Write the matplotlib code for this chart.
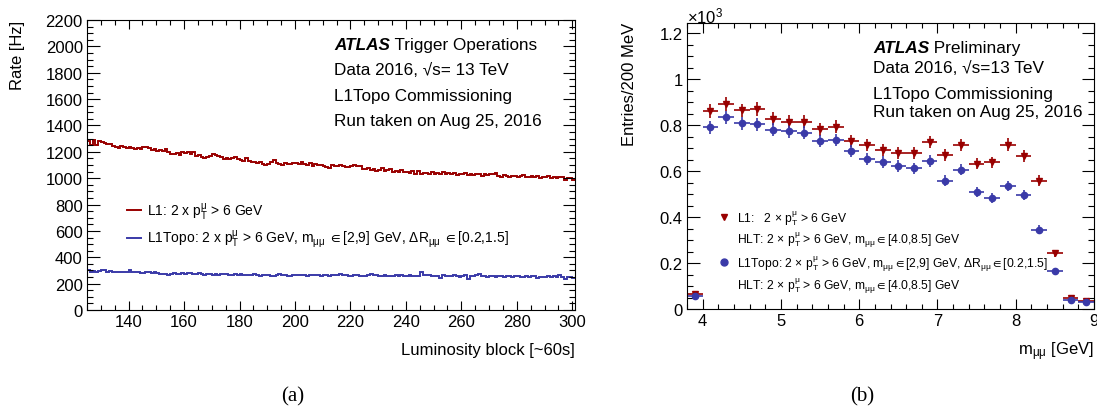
import numpy as np
import matplotlib.pyplot as plt
from matplotlib.lines import Line2D
from matplotlib.ticker import MultipleLocator, FuncFormatter

plt.rcParams['font.family'] = ['Liberation Sans', 'DejaVu Sans']
plt.rcParams['mathtext.fontset'] = 'custom'
plt.rcParams['mathtext.rm'] = 'Liberation Sans'
plt.rcParams['mathtext.it'] = 'Liberation Sans:italic'
plt.rcParams['mathtext.bf'] = 'Liberation Sans:bold'
plt.rcParams['mathtext.fallback'] = 'stixsans'

RED = '#990000'
BLUE = '#3a3aa8'

# (a) rate per luminosity block, blocks 125..300
lb_first, lb_last = 125, 300
rate_l1 = [
    1280, 1250, 1290, 1255, 1285, 1275, 1270, 1262, 1258, 1245,
    1240, 1232, 1245, 1235, 1230, 1238, 1228, 1225, 1232, 1220,
    1235, 1240, 1232, 1215, 1222, 1208, 1212, 1205, 1225, 1198,
    1180, 1185, 1192, 1178, 1195, 1188, 1198, 1182, 1195, 1165,
    1175, 1160, 1150, 1158, 1170, 1180, 1175, 1168, 1160, 1145,
    1150, 1142, 1155, 1160, 1148, 1140, 1132, 1150, 1128, 1125,
    1122, 1118, 1120, 1110, 1102, 1105, 1120, 1135, 1112, 1108,
    1100, 1112, 1105, 1108, 1118, 1115, 1110, 1122, 1105, 1100,
    1112, 1095, 1108, 1102, 1098, 1090, 1085, 1080, 1098, 1095,
    1092, 1100, 1094, 1088, 1085, 1096, 1100, 1090, 1092, 1072,
    1068, 1075, 1060, 1070, 1058, 1065, 1075, 1055, 1062, 1068,
    1050, 1058, 1045, 1062, 1048, 1045, 1040, 1052, 1035, 1055,
    1030, 1042, 1038, 1032, 1050, 1035, 1040, 1028, 1045, 1030,
    1036, 1028, 1042, 1025, 1035, 1028, 1040, 1022, 1030, 1025,
    1035, 1028, 1020, 1030, 1025, 1030, 1035, 1040, 1018, 1010,
    1022, 1015, 1012, 1020, 1018, 1010, 1015, 1022, 1012, 1008,
    1015, 1010, 1020, 1005, 1012, 1008, 1015, 1004, 1010, 1000,
    1012, 1006, 985, 998, 1002, 990,
]
rate_topo = [
    300, 292, 298, 288, 296, 305, 300, 292, 295, 290,
    288, 292, 285, 290, 288, 302, 288, 285, 286, 282,
    284, 290, 286, 282, 288, 280, 275, 270, 272, 268,
    272, 278, 274, 270, 280, 276, 282, 278, 270, 274,
    280, 272, 268, 274, 270, 266, 270, 268, 274, 276,
    270, 268, 264, 270, 268, 272, 266, 262, 268, 264,
    270, 262, 258, 264, 268, 266, 260, 258, 262, 270,
    262, 264, 260, 258, 266, 262, 266, 262, 264, 258,
    262, 268, 264, 262, 260, 264, 262, 260, 266, 262,
    264, 270, 266, 262, 260, 258, 262, 266, 260, 255,
    258, 262, 272, 268, 262, 260, 255, 262, 258, 260,
    256, 262, 258, 262, 260, 258, 262, 256, 260, 258,
    286, 268, 262, 265, 258, 256, 260, 240, 262, 258,
    260, 256, 264, 258, 254, 258, 262, 238, 256, 258,
    262, 270, 260, 256, 254, 256, 258, 254, 256, 258,
    252, 256, 258, 254, 256, 258, 254, 250, 256, 252,
    256, 260, 244, 252, 254, 250, 255, 252, 256, 250,
    262, 252, 238, 250, 248, 245,
]

# (b) dimuon mass, 200 MeV bins (units of 10^3 entries)
mass = [3.9, 4.1, 4.3, 4.5, 4.7, 4.9, 5.1, 5.3, 5.5, 5.7, 5.9, 6.1, 6.3,
        6.5, 6.7, 6.9, 7.1, 7.3, 7.5, 7.7, 7.9, 8.1, 8.3, 8.5, 8.7, 8.9]
entries_l1 = [0.065, 0.861, 0.891, 0.865, 0.870, 0.829, 0.815, 0.815, 0.783,
              0.793, 0.732, 0.713, 0.693, 0.681, 0.681, 0.728, 0.671, 0.713,
              0.633, 0.638, 0.716, 0.667, 0.558, 0.243, 0.048, 0.035]
entries_topo = [0.055, 0.791, 0.834, 0.809, 0.804, 0.780, 0.774, 0.768, 0.732,
                0.735, 0.688, 0.652, 0.641, 0.623, 0.612, 0.643, 0.558, 0.606,
                0.510, 0.485, 0.535, 0.497, 0.345, 0.164, 0.040, 0.029]
bin_half = 0.1

W, H = 1097, 410
fig = plt.figure(figsize=(W / 100, H / 100), dpi=100)


def px_axes(x0, y0, x1, y1):
    return fig.add_axes([x0 / W, 1 - y1 / H, (x1 - x0) / W, (y1 - y0) / H])


def root_style(ax, xlen, ylen):
    ax.tick_params(which='both', direction='in', top=True, right=True,
                   labelsize=12, width=0.8, pad=3)
    ax.tick_params(axis='x', which='major', length=xlen)
    ax.tick_params(axis='x', which='minor', length=xlen / 2)
    ax.tick_params(axis='y', which='major', length=ylen)
    ax.tick_params(axis='y', which='minor', length=ylen / 2)
    for s in ax.spines.values():
        s.set_linewidth(0.8)


mumu = r'$_{\mathrm{\mu\mu}}$'
pt = r'p$_{\mathrm{T}}^{\mathrm{\mu}}$'

# ---------- panel (a)
ax1 = px_axes(87, 21, 575, 311)
edges = np.arange(lb_first, lb_last + 2)
ax1.stairs(rate_l1, edges, baseline=None, color=RED, lw=1.4,
           label='L1: 2 x ' + pt + ' > 6 GeV')
ax1.stairs(rate_topo, edges, baseline=None, color=BLUE, lw=1.4,
           label='L1Topo: 2 x ' + pt + ' > 6 GeV, m' + mumu + r' $\in$[2,9] GeV, $\Delta$R'
                 + mumu + r' $\in$[0.2,1.5]')
ax1.set_xlim(lb_first, lb_last + 1)
ax1.set_ylim(0, 2200)
ax1.xaxis.set_major_locator(MultipleLocator(20))
ax1.xaxis.set_minor_locator(MultipleLocator(5))
ax1.yaxis.set_major_locator(MultipleLocator(200))
ax1.yaxis.set_minor_locator(MultipleLocator(50))
root_style(ax1, 6.5, 9)

ax1.legend(loc='upper left', bbox_to_anchor=(0.082, 0.378), frameon=False,
           fontsize=10, handlelength=1.0, handletextpad=0.45,
           labelspacing=0.45, borderpad=0, borderaxespad=0)

t = ax1.text(0.506, 0.917, 'ATLAS', transform=ax1.transAxes, fontsize=12.3,
             fontweight='bold', fontstyle='italic', va='center')
ax1.annotate(' Trigger Operations', xy=(1, 0.5), xycoords=t, fontsize=12.3, va='center')
ax1.text(0.506, 0.831, 'Data 2016, √s= 13 TeV', transform=ax1.transAxes, fontsize=12.3, va='center')
ax1.text(0.506, 0.738, 'L1Topo Commissioning', transform=ax1.transAxes, fontsize=12.3, va='center')
ax1.text(0.506, 0.652, 'Run taken on Aug 25, 2016', transform=ax1.transAxes, fontsize=12.3, va='center')

fig.text(17.5 / W, 1 - 21 / H, 'Rate [Hz]', rotation=90, ha='center', va='top', fontsize=12)
fig.text(575 / W, 1 - 351 / H, 'Luminosity block [~60s]', ha='right', va='center', fontsize=12)

# ---------- panel (b)
ax2 = px_axes(687, 24, 1094, 310)
yerr_l1 = np.sqrt(np.array(entries_l1) * 1000) / 1000
yerr_topo = np.sqrt(np.array(entries_topo) * 1000) / 1000
ax2.errorbar(mass, entries_l1, xerr=bin_half, yerr=yerr_l1, fmt='v', color=RED,
             ms=4.5, elinewidth=1.2, capsize=0)
ax2.errorbar(mass, entries_topo, xerr=bin_half, yerr=yerr_topo, fmt='o', color=BLUE,
             ms=4.5, elinewidth=1.2, capsize=0)
ax2.set_xlim(3.8, 9.0)
ax2.set_ylim(0, 1.245)
ax2.xaxis.set_major_locator(MultipleLocator(1))
ax2.xaxis.set_minor_locator(MultipleLocator(0.2))
ax2.yaxis.set_major_locator(MultipleLocator(0.2))
ax2.yaxis.set_minor_locator(MultipleLocator(0.05))
ax2.yaxis.set_major_formatter(FuncFormatter(lambda v, p: f'{v:g}'))
root_style(ax2, 7, 9)

hlt = r'HLT: 2 $\times$ ' + pt + ' > 6 GeV, m' + mumu + r'$\in$[4.0,8.5] GeV'
empty = Line2D([], [], ls='none')
lg_a = ax2.legend([Line2D([], [], marker='v', ls='none', color=RED, ms=5), empty],
                  [r'L1:   2 $\times$ ' + pt + ' > 6 GeV', hlt],
                  loc='upper left', bbox_to_anchor=(0.075, 0.352), frameon=False,
                  fontsize=8.7, handlelength=1.1, handletextpad=0.5,
                  labelspacing=0.22, borderpad=0, borderaxespad=0)
ax2.add_artist(lg_a)
ax2.legend([Line2D([], [], marker='o', ls='none', color=BLUE, ms=5), empty],
           [r'L1Topo: 2 $\times$ ' + pt + ' > 6 GeV, m' + mumu + r'$\in$[2,9] GeV, $\Delta$R'
            + mumu + r'$\in$[0.2,1.5]', hlt],
           loc='upper left', bbox_to_anchor=(0.075, 0.195), frameon=False,
           fontsize=8.7, handlelength=1.1, handletextpad=0.5,
           labelspacing=0.22, borderpad=0, borderaxespad=0)

t2 = ax2.text(0.457, 0.916, 'ATLAS', transform=ax2.transAxes, fontsize=12.4,
              fontweight='bold', fontstyle='italic', va='center')
ax2.annotate(' Preliminary', xy=(1, 0.5), xycoords=t2, fontsize=12.4, va='center')
ax2.text(0.457, 0.846, 'Data 2016, √s=13 TeV', transform=ax2.transAxes, fontsize=12.4, va='center')
ax2.text(0.457, 0.752, 'L1Topo Commissioning', transform=ax2.transAxes, fontsize=12.4, va='center')
ax2.text(0.457, 0.690, 'Run taken on Aug 25, 2016', transform=ax2.transAxes, fontsize=12.4, va='center')

fig.text(687 / W, 1 - 16 / H, r'$\times$10$^{3}$', ha='left', va='center', fontsize=12)
fig.text(630 / W, 1 - 23 / H, 'Entries/200 MeV', rotation=90, ha='center', va='top', fontsize=12)
fig.text(1094 / W, 1 - 352 / H, 'm' + mumu + ' [GeV]', ha='right', va='center', fontsize=12)

fig.text(293 / W, 1 - 397 / H, '(a)', ha='center', va='center', fontsize=15, family='Liberation Serif')
fig.text(862 / W, 1 - 397 / H, '(b)', ha='center', va='center', fontsize=15, family='Liberation Serif')

fig.savefig('out.png', dpi=100)
